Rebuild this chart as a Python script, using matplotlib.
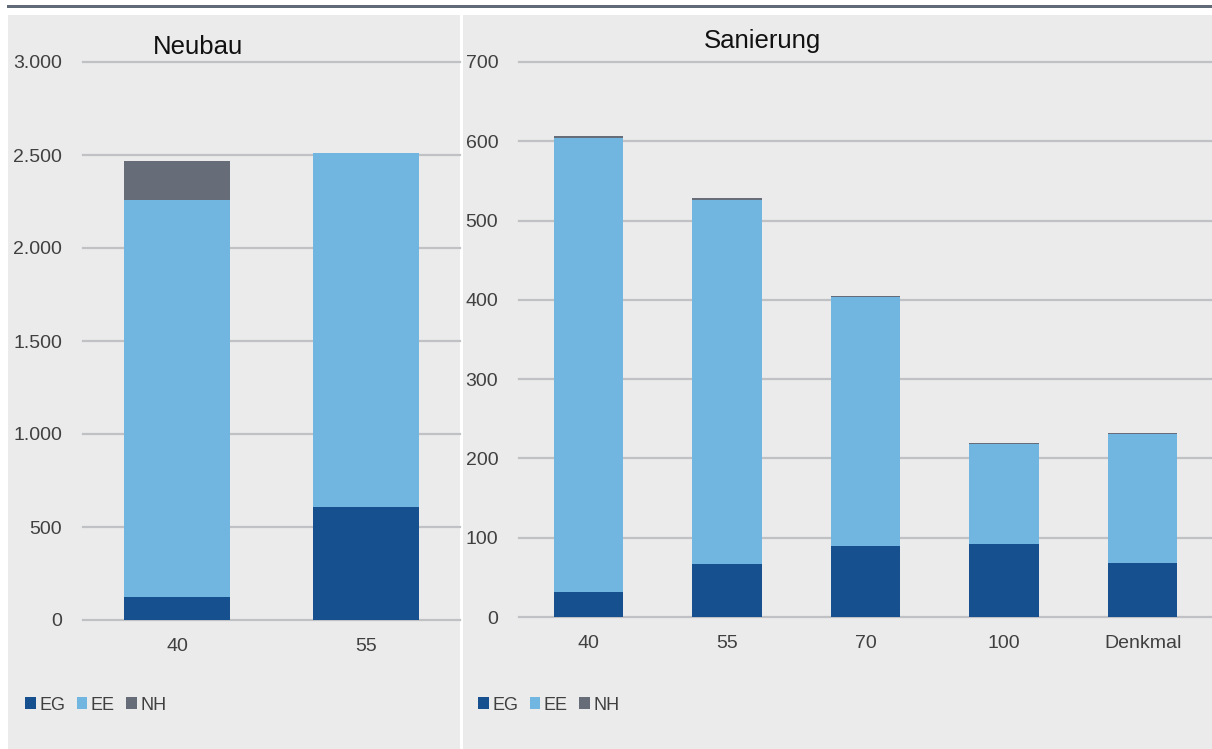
import numpy as np
import matplotlib.pyplot as plt
from matplotlib.patches import Rectangle, Patch

# ---- Data ----
neubau_cats = ["40", "55"]
neubau_eg = [125, 605]
neubau_ee = [2135, 1908]
neubau_nh = [210, 0]

san_cats = ["40", "55", "70", "100", "Denkmal"]
san_eg = [32, 67, 90, 92, 68]
san_ee = [572, 459, 314, 126, 163]
san_nh = [3, 2, 0.5, 1, 1]

series = ["EG", "EE", "NH"]
colors = {"EG": "#16508f", "EE": "#70b6e0", "NH": "#666d78"}

BG = "#ebebeb"
GRID = "#bfc1c4"
TXT = "#404040"

plt.rcParams["font.family"] = ["Liberation Sans", "DejaVu Sans"]

W, H = 1212, 749
fig = plt.figure(figsize=(W / 100, H / 100), dpi=100)
fig.patch.set_facecolor("white")

def px(x0, y0, w, h):
    # pixel box (top-left origin) -> figure fraction
    return [x0 / W, 1 - (y0 + h) / H, w / W, h / H]

# panel backgrounds + top rule (behind the axes)
fig.patches.append(Rectangle((8 / W, 0), 452 / W, 1 - 15 / H, transform=fig.transFigure,
                             facecolor=BG, edgecolor="none", zorder=-2))
fig.patches.append(Rectangle((463 / W, 0), 749 / W, 1 - 15 / H, transform=fig.transFigure,
                             facecolor=BG, edgecolor="none", zorder=-2))
fig.patches.append(Rectangle((7 / W, 1 - 8 / H), 1205 / W, 2.6 / H, transform=fig.transFigure,
                             facecolor="#606b77", edgecolor="none", zorder=-2))


def stacked(ax, cats, eg, ee, nh, ymax, step, width, fmt):
    x = np.arange(len(cats))
    eg = np.array(eg, float)
    ee = np.array(ee, float)
    nh = np.array(nh, float)
    ax.bar(x, eg, width, color=colors["EG"], zorder=3)
    ax.bar(x, ee, width, bottom=eg, color=colors["EE"], zorder=3)
    ax.bar(x, nh, width, bottom=eg + ee, color=colors["NH"], zorder=3)
    ax.set_xlim(-0.5, len(cats) - 0.5)
    ax.set_ylim(0, ymax)
    ticks = np.arange(0, ymax + step, step)
    ax.set_yticks(ticks)
    ax.set_yticklabels([fmt(t) for t in ticks])
    for t in ticks:
        ax.axhline(t, color=GRID, lw=1.6, zorder=1, clip_on=False)
    ax.set_xticks(x)
    ax.set_xticklabels(cats)
    ax.set_facecolor("none")
    for s in ax.spines.values():
        s.set_visible(False)
    ax.tick_params(axis="y", length=0, pad=15, labelsize=14, labelcolor=TXT)
    ax.tick_params(axis="x", length=0, pad=13, labelsize=14, labelcolor=TXT)


ax1 = fig.add_axes(px(83, 62, 377, 558))
stacked(ax1, neubau_cats, neubau_eg, neubau_ee, neubau_nh, 3000, 500, 0.56,
        lambda t: f"{int(t):,}".replace(",", "."))
ax1.set_title("Neubau", fontsize=18.5, color="#111111", x=0.305, y=1.0, pad=6)

ax2 = fig.add_axes(px(519, 62, 693, 555))
stacked(ax2, san_cats, san_eg, san_ee, san_nh, 700, 100, 0.5,
        lambda t: f"{int(t)}")
ax2.set_title("Sanierung", fontsize=18.5, color="#111111", x=0.352, y=1.0, pad=10)

handles = [Patch(facecolor=colors[s], edgecolor="none", label=s) for s in series]
for x0 in (18 / W, 471 / W):
    leg = fig.legend(handles=handles, loc="center left", bbox_to_anchor=(x0, 1 - 705 / H),
                     ncol=3, frameon=False, fontsize=13, handlelength=0.6, handleheight=0.6,
                     handletextpad=0.2, columnspacing=0.6, borderaxespad=0)
    for t in leg.get_texts():
        t.set_color(TXT)

fig.savefig("out.png", dpi=100)
